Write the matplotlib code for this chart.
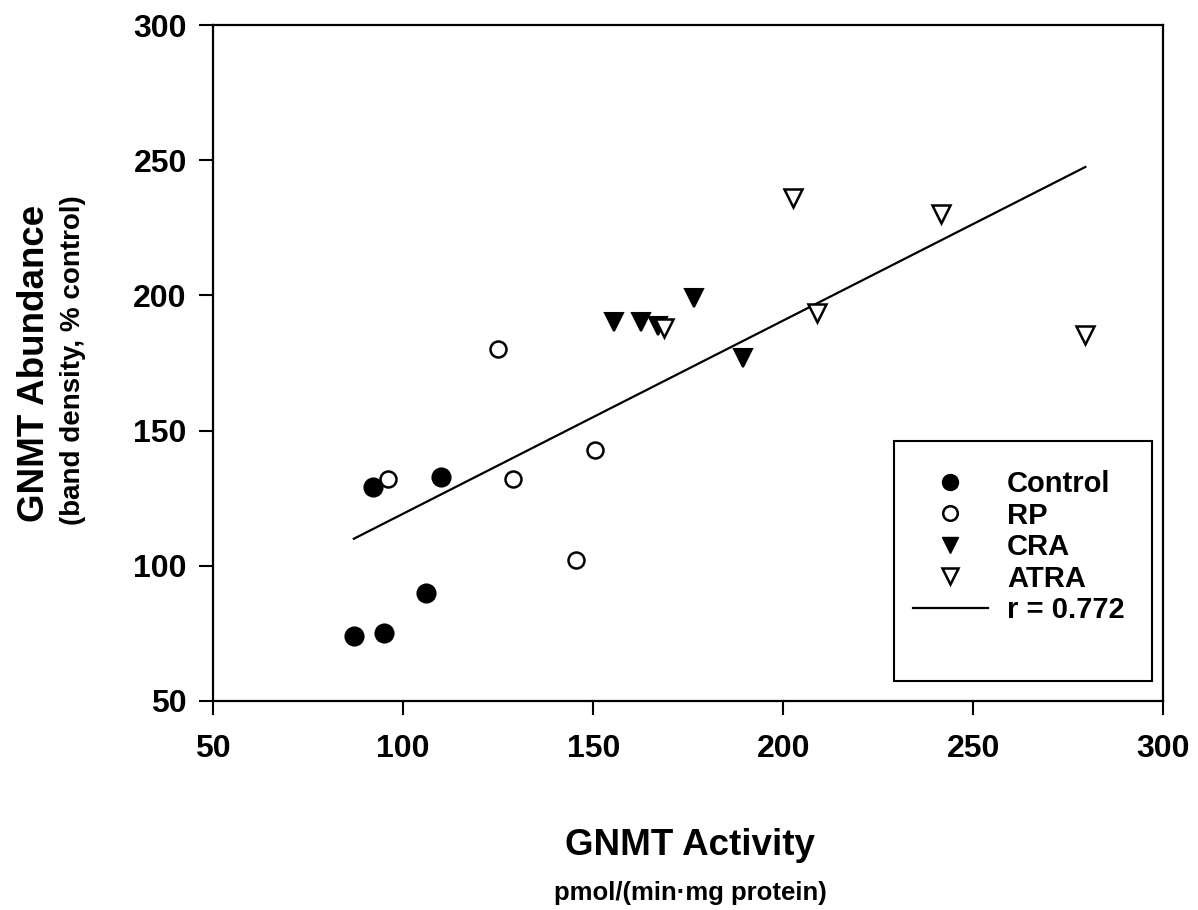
import matplotlib
matplotlib.use("Agg")
import matplotlib.pyplot as plt
from matplotlib.lines import Line2D
from matplotlib.patches import Rectangle

plt.rcParams['font.family'] = ['Liberation Sans', 'DejaVu Sans']
plt.rcParams['font.weight'] = 'bold'

# datos
control_x = [87, 95, 106, 92, 110]
control_y = [74, 75, 90, 129, 133]
rp_x = [96, 129, 150.5, 145.5, 125]
rp_y = [132, 132, 143, 102, 180]
cra_x = [155.5, 162.5, 176.5, 189.5, 167]
cra_y = [190, 190, 199, 177, 188.5]
atra_x = [202.5, 241.5, 209, 279.5, 168.5]
atra_y = [236, 230, 193.5, 185.5, 188]
fit_x = [87, 279.5]
fit_y = [110, 247.5]
ticks = [50, 100, 150, 200, 250, 300]

fig = plt.figure(figsize=(11.98, 9.10), dpi=100)
ax = fig.add_axes([0.178, 0.2297, 0.793, 0.7428])

ms = 13
ax.plot(fit_x, fit_y, color='black', lw=1.6, zorder=2)
ax.plot(control_x, control_y, 'o', ms=ms, mfc='black', mec='black', mew=1.5, zorder=3)
ax.plot(rp_x, rp_y, 'o', ms=ms - 1.5, mfc='white', mec='black', mew=1.8, zorder=3)
ax.plot(cra_x, cra_y, 'v', ms=ms, mfc='black', mec='black', mew=1.5, zorder=3)
ax.plot(atra_x, atra_y, 'v', ms=ms, mfc='white', mec='black', mew=1.8, zorder=4)

ax.set_xlim(50, 300)
ax.set_ylim(50, 300)
ax.set_xticks(ticks)
ax.set_yticks(ticks)
ax.tick_params(direction='out', length=10, width=1.5, labelsize=23)
ax.tick_params(axis='x', pad=14)
ax.tick_params(axis='y', pad=9)
for lbl in ax.get_xticklabels() + ax.get_yticklabels():
    lbl.set_fontweight('bold')
for s in ax.spines.values():
    s.set_linewidth(1.6)

fig.text(0.576, 0.071, "GNMT Activity", ha='center', va='center', fontsize=26.5, fontweight='bold')
fig.text(0.576, 0.019, "pmol/(min\u00b7mg protein)", ha='center', va='center', fontsize=18.5, fontweight='bold')
fig.text(0.029, 0.601, "GNMT Abundance", ha='center', va='center', rotation=90, fontsize=26.5, fontweight='bold')
fig.text(0.061, 0.604, "(band density, % control)", ha='center', va='center', rotation=90, fontsize=20, fontweight='bold')

# leyenda sin marco + marco aparte (mas espacio abajo, como el original)
handles = [
    Line2D([], [], ls='', marker='o', ms=11.5, mfc='black', mec='black'),
    Line2D([], [], ls='', marker='o', ms=10.5, mfc='white', mec='black', mew=1.8),
    Line2D([], [], ls='', marker='v', ms=11.5, mfc='black', mec='black'),
    Line2D([], [], ls='', marker='v', ms=11.5, mfc='white', mec='black', mew=1.8),
    Line2D([], [], color='black', lw=1.6),
]
labels = ["Control", "RP", "CRA", "ATRA", "r = 0.772"]
fig.legend(handles, labels, loc='upper left', bbox_to_anchor=(0.762, 0.4835),
           frameon=False, prop={'size': 21, 'weight': 'bold'}, handlelength=2.57,
           handletextpad=0.65, labelspacing=0.12, borderpad=0, borderaxespad=0)
fig.patches.append(Rectangle((0.7462, 0.2516), 0.2154, 0.2637, transform=fig.transFigure,
                             fill=False, edgecolor='black', lw=1.5))

fig.savefig("out.png", dpi=100)
